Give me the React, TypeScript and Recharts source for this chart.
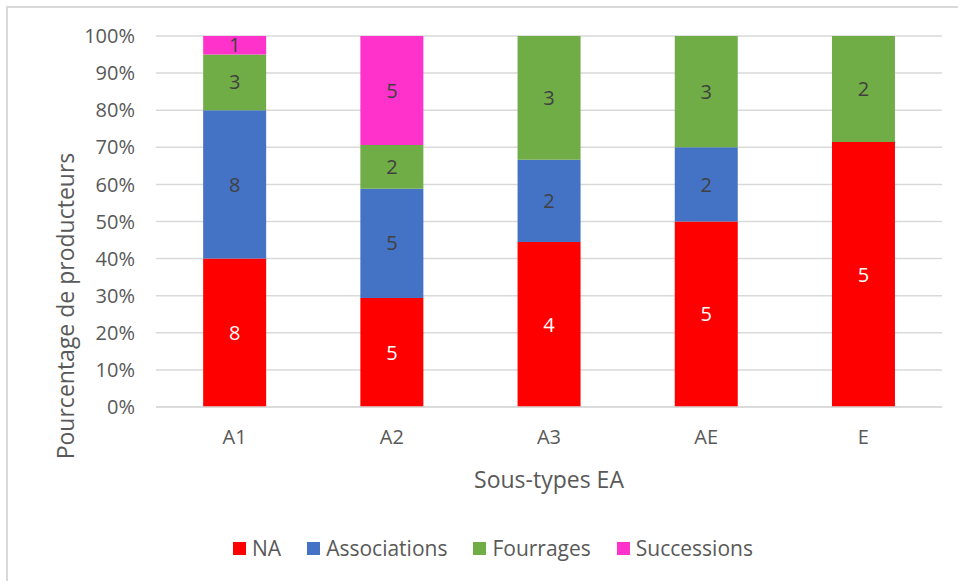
import { BarChart, Bar, XAxis, YAxis, CartesianGrid, Legend, LabelList } from "recharts";

const categories = ["A1", "A2", "A3", "AE", "E"];
const na = [8, 5, 4, 5, 5];
const associations = [8, 5, 2, 2, 0];
const fourrages = [3, 2, 3, 3, 2];
const successions = [1, 5, 0, 0, 0];
const yTicks = [0, 0.1, 0.2, 0.3, 0.4, 0.5, 0.6, 0.7, 0.8, 0.9, 1];

const series = [
  { key: "NA", color: "#FF0000", labelColor: "#FFFFFF" },
  { key: "Associations", color: "#4472C4", labelColor: "#404040" },
  { key: "Fourrages", color: "#70AD47", labelColor: "#404040" },
  { key: "Successions", color: "#FF33CC", labelColor: "#404040" },
];

const data = categories.map((c, i) => ({
  name: c,
  NA: na[i],
  Associations: associations[i],
  Fourrages: fourrages[i],
  Successions: successions[i],
}));

const FONT = "'Open Sans', sans-serif";
const TEXT = "#595959";

function LegendContent() {
  return (
    <div style={{ display: "flex", justifyContent: "center", gap: 26, fontFamily: FONT, fontSize: 21, color: TEXT }}>
      {series.map((s) => (
        <div key={s.key} style={{ display: "flex", alignItems: "center" }}>
          <span style={{ width: 13, height: 13, background: s.color, marginRight: 6, display: "inline-block" }} />
          <span>{s.key}</span>
        </div>
      ))}
    </div>
  );
}

export default function App() {
  return (
    <div style={{ position: "absolute", left: 0, top: 0, width: 958, height: 581, overflow: "hidden", background: "#fff" }}>
      <div style={{ position: "absolute", left: 6, top: 6, width: 1000, height: 620, border: "2px solid #d9d9d9" }} />
      <div style={{ position: "absolute", left: 0, top: 0 }}>
        <BarChart
          width={958}
          height={581}
          data={data}
          stackOffset="expand"
          barCategoryGap="30%"
          margin={{ top: 36, right: 16, left: 0, bottom: 84 }}
        >
          <CartesianGrid vertical={false} stroke="#d9d9d9" strokeWidth={1.5} />
          <XAxis
            dataKey="name"
            height={90}
            axisLine={{ stroke: "#d9d9d9", strokeWidth: 1.5 }}
            tickLine={false}
            tickMargin={17}
            tick={{ fill: TEXT, fontSize: 20, fontFamily: FONT }}
            label={(props: any) => {
              const vb = props.viewBox;
              return (
                <text x={vb.x + vb.width / 2} y={vb.y + 72} textAnchor="middle" dominantBaseline="central" fill={TEXT} fontSize={23} fontFamily={FONT}>
                  Sous-types EA
                </text>
              );
            }}
          />
          <YAxis
            width={156}
            domain={[0, 1]}
            ticks={yTicks}
            axisLine={false}
            tickLine={false}
            tickMargin={15}
            tickFormatter={(v: number) => `${Math.round(v * 100)}%`}
            tick={{ fill: TEXT, fontSize: 20, fontFamily: FONT }}
            label={() => (
              <text x={65} y={306} transform="rotate(-90, 65, 306)" textAnchor="middle" dominantBaseline="central" fill={TEXT} fontSize={23} fontFamily={FONT}>
                Pourcentage de producteurs
              </text>
            )}
          />
          <Legend verticalAlign="middle" content={LegendContent} wrapperStyle={{ top: 534, left: 14, width: 958 }} />
          {series.map((s) => (
            <Bar key={s.key} dataKey={s.key} stackId="a" fill={s.color} isAnimationActive={false}>
              <LabelList
                dataKey={s.key}
                position="center"
                fill={s.labelColor}
                fontSize={20}
                fontFamily={FONT}
                formatter={(v: any) => (v ? v : "")}
              />
            </Bar>
          ))}
        </BarChart>
      </div>
    </div>
  );
}
